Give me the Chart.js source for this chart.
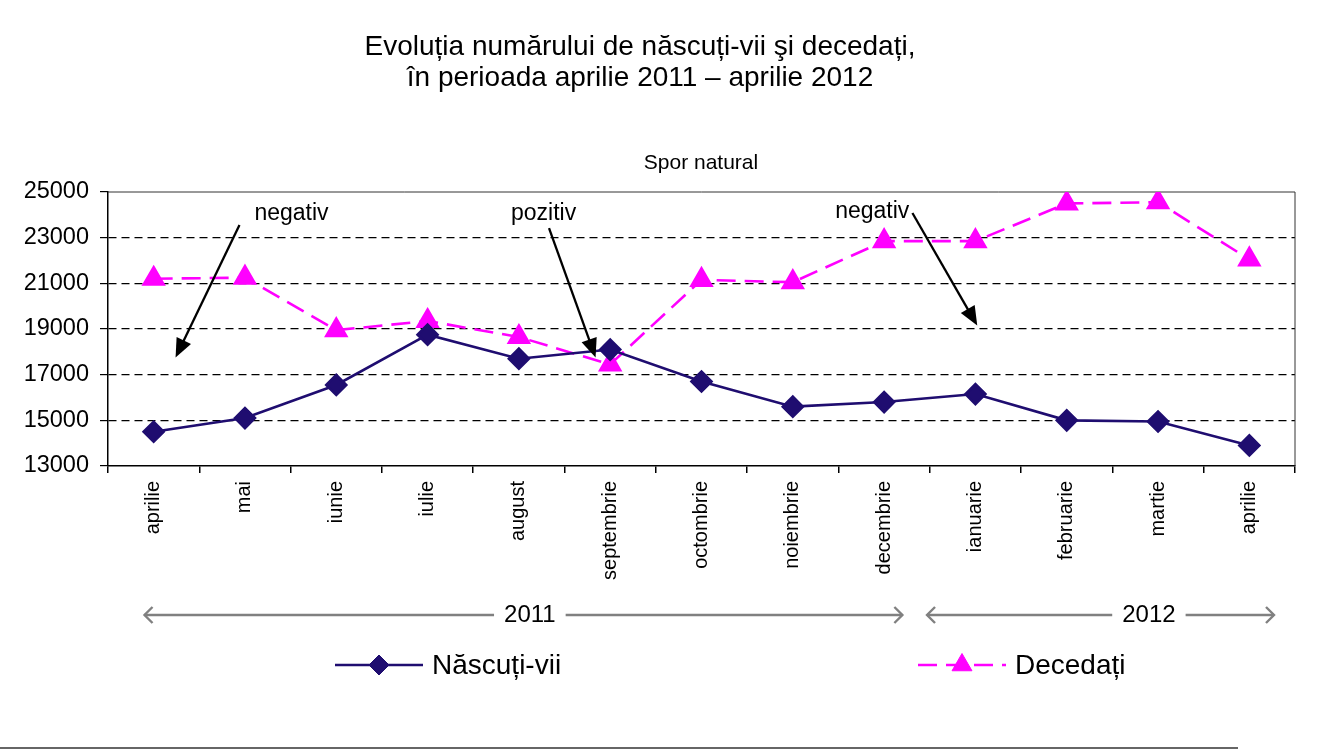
<!DOCTYPE html>
<html>
<head>
<meta charset="utf-8">
<title>Spor natural</title>
<script src="https://cdn.jsdelivr.net/npm/chart.js@4.4.1/dist/chart.umd.min.js"></script>
<style>
    html, body { margin: 0; padding: 0; background: #fff; }
    #wrap { width: 1330px; height: 750px; }
</style>
</head>
<body>
<div id="wrap"><canvas id="sporChart" width="1330" height="750"></canvas></div>
<script>
// Data
const months = ['aprilie', 'mai', 'iunie', 'iulie', 'august', 'septembrie', 'octombrie',
    'noiembrie', 'decembrie', 'ianuarie', 'februarie', 'martie', 'aprilie'];
const nascutiVii = [14500, 15100, 16550, 18750, 17700, 18100, 16700, 15600, 15800, 16150, 15000, 14950, 13900];
const decedati = [21200, 21250, 18950, 19350, 18650, 17450, 21150, 21050, 22850, 22850, 24500, 24550, 22050];
const yearLabels = ['2011', '2012'];
const seriesNames = ['Născuți-vii', 'Decedați'];
const titleLines = ['Evoluția numărului de născuți-vii şi decedați,', 'în perioada aprilie 2011 – aprilie 2012'];
const subtitle = 'Spor natural';

const FONT = '"Liberation Sans", Arial, Helvetica, sans-serif';
const NAVY = '#1f0d70';
const MAGENTA = '#ff00ff';

// Arrow helpers
function filledHead(ctx, x1, y1, x2, y2, len, half) {
    const a = Math.atan2(y2 - y1, x2 - x1);
    const bx = x2 - len * Math.cos(a), by = y2 - len * Math.sin(a);
    ctx.beginPath();
    ctx.moveTo(x2, y2);
    ctx.lineTo(bx + half * Math.sin(a), by - half * Math.cos(a));
    ctx.lineTo(bx - half * Math.sin(a), by + half * Math.cos(a));
    ctx.closePath();
    ctx.fill();
}

function openHead(ctx, x, y, dir, size) {
    ctx.beginPath();
    ctx.moveTo(x - dir * size, y - size);
    ctx.lineTo(x, y);
    ctx.lineTo(x - dir * size, y + size);
    ctx.stroke();
}

// Titles, annotations, year arrows, legend
const decorations = {
    id: 'decorations',
    beforeDatasetsDraw(chart) {
        const {ctx, chartArea: a} = chart;
        ctx.save();
        ctx.strokeStyle = '#333';
        ctx.lineWidth = 1;
        ctx.beginPath();
        ctx.moveTo(a.left, a.top);
        ctx.lineTo(a.right, a.top);
        ctx.lineTo(a.right, a.bottom);
        ctx.stroke();
        ctx.restore();
    },
    afterDraw(chart, args, opts) {
        const {ctx, scales: {x, y}} = chart;
        ctx.save();
        ctx.fillStyle = '#000';
        ctx.textAlign = 'center';
        ctx.textBaseline = 'middle';

        // title
        ctx.font = '28px ' + FONT;
        ctx.fillText(titleLines[0], 640, 47);
        ctx.fillText(titleLines[1], 640, 78);
        ctx.font = '21px ' + FONT;
        ctx.fillText(subtitle, 701, 163);

        // "negativ" / "pozitiv" arrows, placed in data units
        ctx.font = '23px ' + FONT;
        ctx.strokeStyle = '#000';
        ctx.lineWidth = 2.3;
        opts.notes.forEach(n => {
            ctx.fillText(n.text, x.getPixelForValue(n.at[0]), y.getPixelForValue(n.at[1]));
            const x1 = x.getPixelForValue(n.from[0]), y1 = y.getPixelForValue(n.from[1]);
            const x2 = x.getPixelForValue(n.to[0]), y2 = y.getPixelForValue(n.to[1]);
            const a = Math.atan2(y2 - y1, x2 - x1);
            ctx.beginPath();
            ctx.moveTo(x1, y1);
            ctx.lineTo(x2 - 15 * Math.cos(a), y2 - 15 * Math.sin(a));
            ctx.stroke();
            filledHead(ctx, x1, y1, x2, y2, 19, 8);
        });

        // year spans under the month labels
        ctx.font = '24px ' + FONT;
        ctx.strokeStyle = '#808080';
        ctx.lineWidth = 2.4;
        const yy = 615;
        opts.years.forEach((span, i) => {
            const x1 = x.getPixelForValue(span[0]), x2 = x.getPixelForValue(span[1]);
            const cx = x.getPixelForValue(span[2]);
            const half = ctx.measureText(yearLabels[i]).width / 2 + 10;
            ctx.beginPath();
            ctx.moveTo(x1, yy);
            ctx.lineTo(cx - half, yy);
            ctx.moveTo(cx + half, yy);
            ctx.lineTo(x2, yy);
            ctx.stroke();
            openHead(ctx, x1, yy, -1, 8);
            openHead(ctx, x2, yy, 1, 8);
            ctx.fillStyle = '#000';
            ctx.fillText(yearLabels[i], cx, yy);
        });

        // legend
        const ly = 665;
        ctx.font = '28px ' + FONT;
        ctx.textAlign = 'left';
        chart.data.datasets.forEach((ds, i) => {
            const lx = opts.legendX[i];
            ctx.strokeStyle = ds.borderColor;
            ctx.fillStyle = ds.pointBackgroundColor;
            ctx.lineWidth = ds.borderWidth;
            ctx.setLineDash(ds.borderDash || []);
            ctx.beginPath();
            ctx.moveTo(lx, ly);
            ctx.lineTo(lx + 88, ly);
            ctx.stroke();
            ctx.setLineDash([]);
            ctx.lineWidth = 1;
            Chart.helpers.drawPoint(ctx, {pointStyle: ds.pointStyle, radius: ds.pointRadius, rotation: 0, borderWidth: 1}, lx + 44, ly);
            ctx.fillStyle = '#000';
            ctx.fillText(ds.label, lx + 97, ly + 1);
        });

        // rule at the bottom of the page
        ctx.strokeStyle = '#333';
        ctx.lineWidth = 1.5;
        ctx.beginPath();
        ctx.moveTo(0, 748);
        ctx.lineTo(1238, 748);
        ctx.stroke();
        ctx.restore();
    }
};

const ctx = document.getElementById('sporChart').getContext('2d');
new Chart(ctx, {
    type: 'line',
    data: {
        labels: months,
        datasets: [{
            label: seriesNames[0],
            data: nascutiVii,
            borderColor: NAVY,
            backgroundColor: NAVY,
            pointBackgroundColor: NAVY,
            pointBorderColor: NAVY,
            borderWidth: 2.6,
            pointStyle: 'rectRot',
            pointRadius: 10,
            tension: 0
        }, {
            label: seriesNames[1],
            data: decedati,
            borderColor: MAGENTA,
            backgroundColor: MAGENTA,
            pointBackgroundColor: MAGENTA,
            pointBorderColor: MAGENTA,
            borderWidth: 2.6,
            borderDash: [19, 9],
            pointStyle: 'triangle',
            pointRadius: 11.5,
            tension: 0
        }]
    },
    options: {
        responsive: false,
        animation: false,
        events: [],
        layout: { padding: { top: 192, right: 35, bottom: 154, left: 0 } },
        plugins: {
            legend: { display: false },
            title: { display: false },
            tooltip: { enabled: false },
            decorations: {
                notes: [
                    { text: 'negativ', at: [1.51, 24070], from: [0.94, 23550], to: [0.24, 17750] },
                    { text: 'pozitiv', at: [4.27, 24070], from: [4.33, 23420], to: [4.84, 17750] },
                    { text: 'negativ', at: [7.87, 24150], from: [8.31, 24080], to: [9.02, 19150] }
                ],
                years: [[-0.1, 8.2, 4.12], [8.47, 12.27, 10.9]],
                legendX: [335, 918]
            }
        },
        scales: {
            x: {
                offset: true,
                grid: { offset: true, drawOnChartArea: false, tickLength: 7, color: '#000', lineWidth: 1.5 },
                border: { color: '#000', width: 1.5 },
                ticks: {
                    autoSkip: false, minRotation: 90, maxRotation: 90, padding: 8,
                    color: '#000', font: { family: FONT, size: 20 }
                },
                afterFit(scale) { scale.height = 130; }
            },
            y: {
                min: 13000,
                max: 25000,
                ticks: {
                    stepSize: 2000, padding: 11, color: '#000', font: { family: FONT, size: 23.5 },
                    callback: value => String(value)
                },
                grid: {
                    color: c => (c.tick && (c.tick.value === 13000 || c.tick.value === 25000)) ? 'rgba(0,0,0,0)' : '#000',
                    tickColor: '#000',
                    tickLength: 8,
                    lineWidth: 1.2
                },
                border: { color: '#000', width: 1.5, dash: [8, 5] },
                afterFit(scale) { scale.width = 108; }
            }
        }
    },
    plugins: [decorations]
});
</script>
</body>
</html>
